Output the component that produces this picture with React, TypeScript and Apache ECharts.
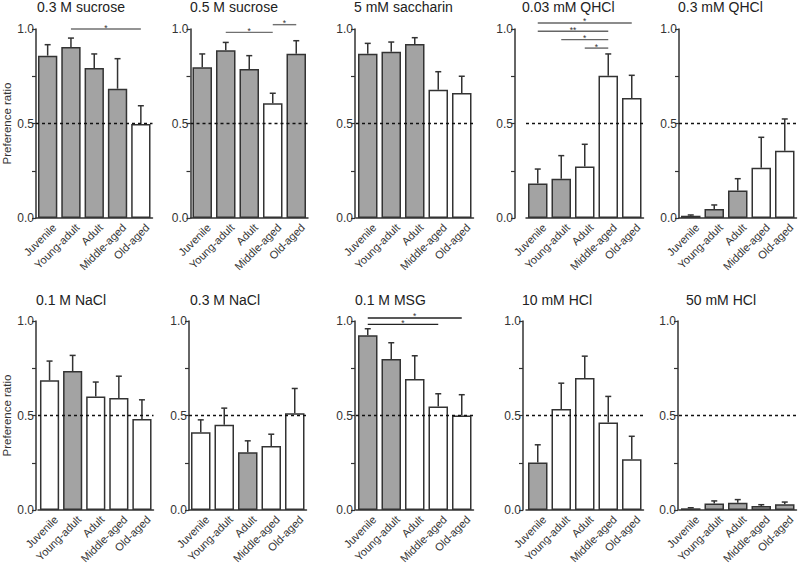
import React, { useEffect, useRef } from "react";
import * as echarts from "echarts";

const categories = ["Juvenile", "Young-adult", "Adult", "Middle-aged", "Old-aged"];

const titles = [
  "0.3 M sucrose", "0.5 M sucrose", "5 mM saccharin", "0.03 mM QHCl", "0.3 mM QHCl",
  "0.1 M NaCl", "0.3 M NaCl", "0.1 M MSG", "10 mM HCl", "50 mM HCl",
];

// mean preference ratio per panel
const means = [
  [0.859, 0.905, 0.794, 0.684, 0.497],
  [0.797, 0.887, 0.788, 0.607, 0.869],
  [0.869, 0.880, 0.921, 0.679, 0.661],
  [0.182, 0.208, 0.272, 0.753, 0.635],
  [0.012, 0.048, 0.146, 0.266, 0.356],
  [0.686, 0.735, 0.601, 0.592, 0.482],
  [0.412, 0.451, 0.306, 0.339, 0.512],
  [0.924, 0.799, 0.693, 0.548, 0.500],
  [0.251, 0.535, 0.698, 0.463, 0.269],
  [0.009, 0.035, 0.039, 0.021, 0.030],
];

// upper end of error bar (mean + SEM)
const errTops = [
  [0.917, 0.952, 0.868, 0.843, 0.594],
  [0.868, 0.929, 0.859, 0.660, 0.938],
  [0.924, 0.931, 0.954, 0.774, 0.750],
  [0.259, 0.330, 0.390, 0.868, 0.755],
  [0.016, 0.069, 0.208, 0.427, 0.524],
  [0.788, 0.818, 0.677, 0.708, 0.583],
  [0.477, 0.539, 0.366, 0.401, 0.643],
  [0.959, 0.885, 0.816, 0.615, 0.610],
  [0.345, 0.671, 0.814, 0.601, 0.390],
  [0.012, 0.048, 0.055, 0.028, 0.042],
];

// filled (grey) = significantly different from 0.5
const filled = [
  [1, 1, 1, 1, 0],
  [1, 1, 1, 0, 1],
  [1, 1, 1, 0, 0],
  [1, 1, 0, 0, 0],
  [1, 1, 1, 0, 0],
  [0, 1, 0, 0, 0],
  [0, 0, 1, 0, 0],
  [1, 1, 0, 0, 0],
  [1, 0, 0, 0, 0],
  [1, 1, 1, 1, 1],
];

// significance brackets: [from category, to category, y level, label]
const sigLines: [number, number, number, string][][] = [
  [[1, 4, 1.0, "*"]],
  [[1, 3, 0.982, "*"], [3, 4, 1.023, "*"]],
  [],
  [[0, 4, 1.032, "*"], [0, 3, 0.988, "**"], [1, 3, 0.944, "*"], [2, 3, 0.899, "*"]],
  [],
  [],
  [],
  [[0, 4, 1.016, "*"], [0, 3, 0.982, "*"]],
  [],
  [],
];

const yLabelTicks = [0, 0.5, 1.0];
const referenceLevel = 0.5;

// layout (pixels)
const gridLefts = [35, 190.5, 356, 526, 679, 36, 189, 356, 526, 679];
const axisOffsets = [0, 0, 1, 11, 0, 2, 0, 1, 3, 1];
const titleLefts = [37, 190, 354, 522, 678, 36, 190, 355, 522, 686];
const rowTops = [29, 321];
const titleTops = [0, 293];
const sigColors = ["#707070", "#707070", "#707070", "#666", "#707070", "#707070", "#707070", "#222", "#707070", "#707070"];
const GRID_W = 117.5;
const GRID_H = 189;
const LABEL_DX = 6.5;
const LABEL_DY = 7.5;

export default function App() {
  const ref = useRef<HTMLDivElement>(null);

  useEffect(() => {
    if (!ref.current) return;
    const chart = echarts.init(ref.current, null, { renderer: "svg" });
    const font = "Liberation Sans, Arial, Helvetica, sans-serif";
    const grid: any[] = [];
    const xAxis: any[] = [];
    const yAxis: any[] = [];
    const series: any[] = [];
    const title: any[] = [];

    for (let p = 0; p < 10; p++) {
      const row = Math.floor(p / 5);
      const col = p % 5;
      grid.push({ left: gridLefts[p], top: rowTops[row], width: GRID_W, height: GRID_H });
      title.push({
        text: titles[p],
        left: titleLefts[p],
        top: titleTops[row],
        padding: 0,
        textStyle: { fontSize: 14, fontWeight: "normal", color: "#222", fontFamily: font },
      });
      xAxis.push({
        type: "category",
        gridIndex: p,
        data: categories,
        axisTick: { show: false },
        axisLine: { lineStyle: { color: "#333", width: 1.5 } },
        axisLabel: { show: false },
      });
      yAxis.push({
        type: "value",
        gridIndex: p,
        min: 0,
        max: 1,
        interval: 0.25,
        offset: axisOffsets[p],
        splitLine: { show: false },
        axisLine: { show: true, lineStyle: { color: "#333", width: 1.5 } },
        axisTick: { show: true, length: 4, lineStyle: { color: "#333", width: 1.2 } },
        axisLabel: {
          fontSize: 12,
          color: "#333",
          margin: 2,
          fontFamily: font,
          formatter: (v: number) => (yLabelTicks.some((t) => Math.abs(t - v) < 1e-9) ? v.toFixed(1) : ""),
        },
        name: col === 0 ? "Preference ratio" : "",
        nameLocation: "middle",
        nameGap: 23,
        nameTextStyle: { fontSize: 11.5, color: "#333", fontFamily: font },
      });
      series.push({
        type: "bar",
        xAxisIndex: p,
        yAxisIndex: p,
        barWidth: "83%",
        data: means[p].map((v, i) => ({
          value: v,
          itemStyle: { color: filled[p][i] ? "#a3a3a3" : "#ffffff" },
        })),
        itemStyle: { borderColor: "#333", borderWidth: 1.5 },
        markLine: {
          silent: true,
          symbol: ["none", "none"],
          data: [{ yAxis: referenceLevel }],
          lineStyle: { type: [3, 3], color: "#111", width: 1.3 },
          label: { show: false },
        },
      });
      // error bars (upper whisker)
      series.push({
        type: "custom",
        xAxisIndex: p,
        yAxisIndex: p,
        clip: false,
        z: 3,
        data: means[p].map((v, i) => [i, v, errTops[p][i]]),
        renderItem: (params: any, api: any) => {
          const x = api.value(0);
          const a = api.coord([x, api.value(1)]);
          const b = api.coord([x, api.value(2)]);
          const st = { stroke: "#333", lineWidth: 1.5 };
          return {
            type: "group",
            children: [
              { type: "line", shape: { x1: a[0], y1: a[1], x2: b[0], y2: b[1] }, style: st },
              { type: "line", shape: { x1: b[0] - 3, y1: b[1], x2: b[0] + 3, y2: b[1] }, style: st },
            ],
          };
        },
      });
      // rotated category labels
      series.push({
        type: "custom",
        xAxisIndex: p,
        yAxisIndex: p,
        clip: false,
        z: 5,
        silent: true,
        data: categories.map((c, i) => [i, 0]),
        renderItem: (params: any, api: any) => {
          const pt = api.coord([api.value(0), api.value(1)]);
          return {
            type: "text",
            x: pt[0] + LABEL_DX,
            y: pt[1] + LABEL_DY,
            rotation: Math.PI / 4,
            style: {
              text: categories[params.dataIndex],
              align: "right",
              verticalAlign: "middle",
              fontSize: 11,
              fill: "#333",
              fontFamily: font,
            },
          };
        },
      });
      if (sigLines[p].length) {
        const lines = sigLines[p];
        series.push({
          type: "custom",
          xAxisIndex: p,
          yAxisIndex: p,
          clip: false,
          z: 4,
          data: lines.map((s) => [s[0], s[1], s[2]]),
          renderItem: (params: any, api: any) => {
            const a = api.coord([api.value(0), api.value(2)]);
            const b = api.coord([api.value(1), api.value(2)]);
            const c = sigColors[p];
            return {
              type: "group",
              children: [
                { type: "line", shape: { x1: a[0], y1: a[1], x2: b[0], y2: b[1] }, style: { stroke: c, lineWidth: 1.4 } },
                {
                  type: "text",
                  style: {
                    text: lines[params.dataIndex][3],
                    x: (a[0] + b[0]) / 2,
                    y: a[1] + 3,
                    align: "center",
                    verticalAlign: "bottom",
                    fontSize: 8.5,
                    fill: "#333",
                    fontFamily: font,
                  },
                },
              ],
            };
          },
        });
      }
    }

    chart.setOption({
      animation: false,
      backgroundColor: "#ffffff",
      title,
      grid,
      xAxis,
      yAxis,
      series,
    });
    return () => chart.dispose();
  }, []);

  return <div ref={ref} style={{ position: "fixed", left: 0, top: 0, width: 800, height: 563 }} />;
}
